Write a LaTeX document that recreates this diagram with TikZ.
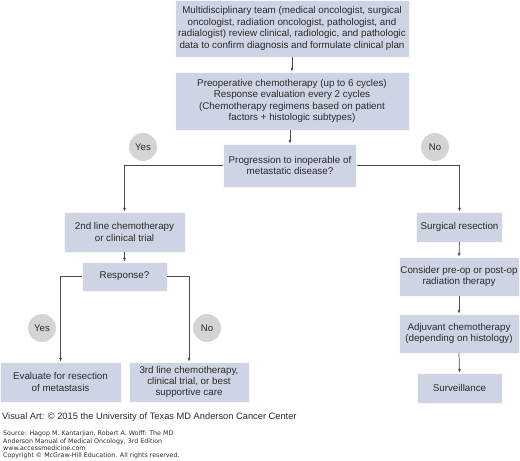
\documentclass[tikz,border=0pt]{standalone}
\usepackage{fontspec}
\setmainfont{Liberation Sans}
\newfontfamily\srcfont{DejaVu Sans}
\usetikzlibrary{arrows.meta}
\definecolor{boxfill}{HTML}{CED4E4}
\definecolor{circfill}{HTML}{D4D4D4}
\definecolor{linecol}{HTML}{4A4A4A}
\definecolor{txtcol}{HTML}{2A2A2A}
\tikzset{
  flowbox/.style={rectangle, fill=boxfill, draw=white!85!boxfill, line width=0.4pt, align=center, text=txtcol, inner sep=0pt, font=\fontsize{9.8}{11.4}\selectfont},
  ans/.style={circle, fill=circfill, minimum size=28pt, inner sep=0pt, text=txtcol, font=\fontsize{9.6}{11}\selectfont},
  conn/.style={draw=linecol, line width=0.7pt, -{Latex[length=4pt,width=3pt]}},
}
\begin{document}
\begin{tikzpicture}[x=1pt,y=-1pt]
\useasboundingbox (0,0) rectangle (520,461);
\node[flowbox, minimum width=234pt, minimum height=57pt] (team) at (292,28.5) {Multidisciplinary team (medical oncologist, surgical\\oncologist, radiation oncologist, pathologist, and\\radialogist) review clinical, radiologic, and pathologic\\data to confirm diagnosis and formulate clinical plan};
\node[flowbox, minimum width=234pt, minimum height=58pt] (preop) at (292,101) {Preoperative chemotherapy (up to 6 cycles)\\Response evaluation every 2 cycles\\(Chemotherapy regimens based on patient\\factors + histologic subtypes)};
\node[flowbox, minimum width=133pt, minimum height=43pt] (prog) at (290,165.5) {Progression to inoperable of\\metastatic disease?};
\node[ans] (yes1) at (143,147) {Yes};
\node[ans] (no1) at (435,147) {No};
\node[flowbox, minimum width=121pt, minimum height=40pt] (second) at (124.5,232) {2nd line chemotherapy\\or clinical trial};
\node[flowbox, minimum width=85pt, minimum height=29pt] (resp) at (124.5,276.5) {Response?};
\node[ans] (yes2) at (42,328) {Yes};
\node[ans] (no2) at (207,328) {No};
\node[flowbox, minimum width=121pt, minimum height=40pt] (eval) at (60.5,382) {Evaluate for resection\\of metastasis};
\node[flowbox, minimum width=120pt, minimum height=40pt] (third) at (189,382) {3rd line chemotherapy,\\clinical trial, or best\\supportive care};
\node[flowbox, minimum width=86pt, minimum height=30pt] (surg) at (459.5,227) {Surgical resection};
\node[flowbox, minimum width=120pt, minimum height=39pt] (consider) at (459,276.5) {Consider pre-op or post-op\\radiation therapy};
\node[flowbox, minimum width=120pt, minimum height=39pt] (adj) at (459,333.5) {Adjuvant chemotherapy\\(depending on histology)};
\node[flowbox, minimum width=85pt, minimum height=30pt] (surv) at (459.5,388) {Surveillance};
\draw[conn] (team.south -| preop.north) -- (preop.north);
\draw[conn] (preop.south -| prog.north) -- (prog.north);
\draw[conn] (prog.west) -| (second.north);
\draw[conn] (prog.east) -| (surg.north);
\draw[conn] (second.south) -- (resp.north);
\draw[conn] (resp.west) -| (eval.north);
\draw[conn] (resp.east) -| (third.north);
\draw[conn] (surg.south) -- (consider.north);
\draw[conn] (consider.south) -- (adj.north);
\draw[conn] (adj.south) -- (surv.north);
\node[anchor=west, inner sep=0pt, text=txtcol, font=\fontsize{9.3}{11}\selectfont] (credit) at (2,417) {Visual Art: \textcopyright{} 2015 the University of Texas MD Anderson Cancer Center};
\node[anchor=north west, inner sep=0pt, align=left, text=txtcol, font=\srcfont\fontsize{6.3}{7.3}\selectfont] (source) at (3,431) {Source: Hagop M. Kantarjian, Robert A. Wolff: The MD\\Anderson Manual of Medical Oncology, 3rd Edition\\www.accessmedicine.com\\Copyright \textcopyright{} McGraw-Hill Education. All rights reserved.};
\end{tikzpicture}
\end{document}
